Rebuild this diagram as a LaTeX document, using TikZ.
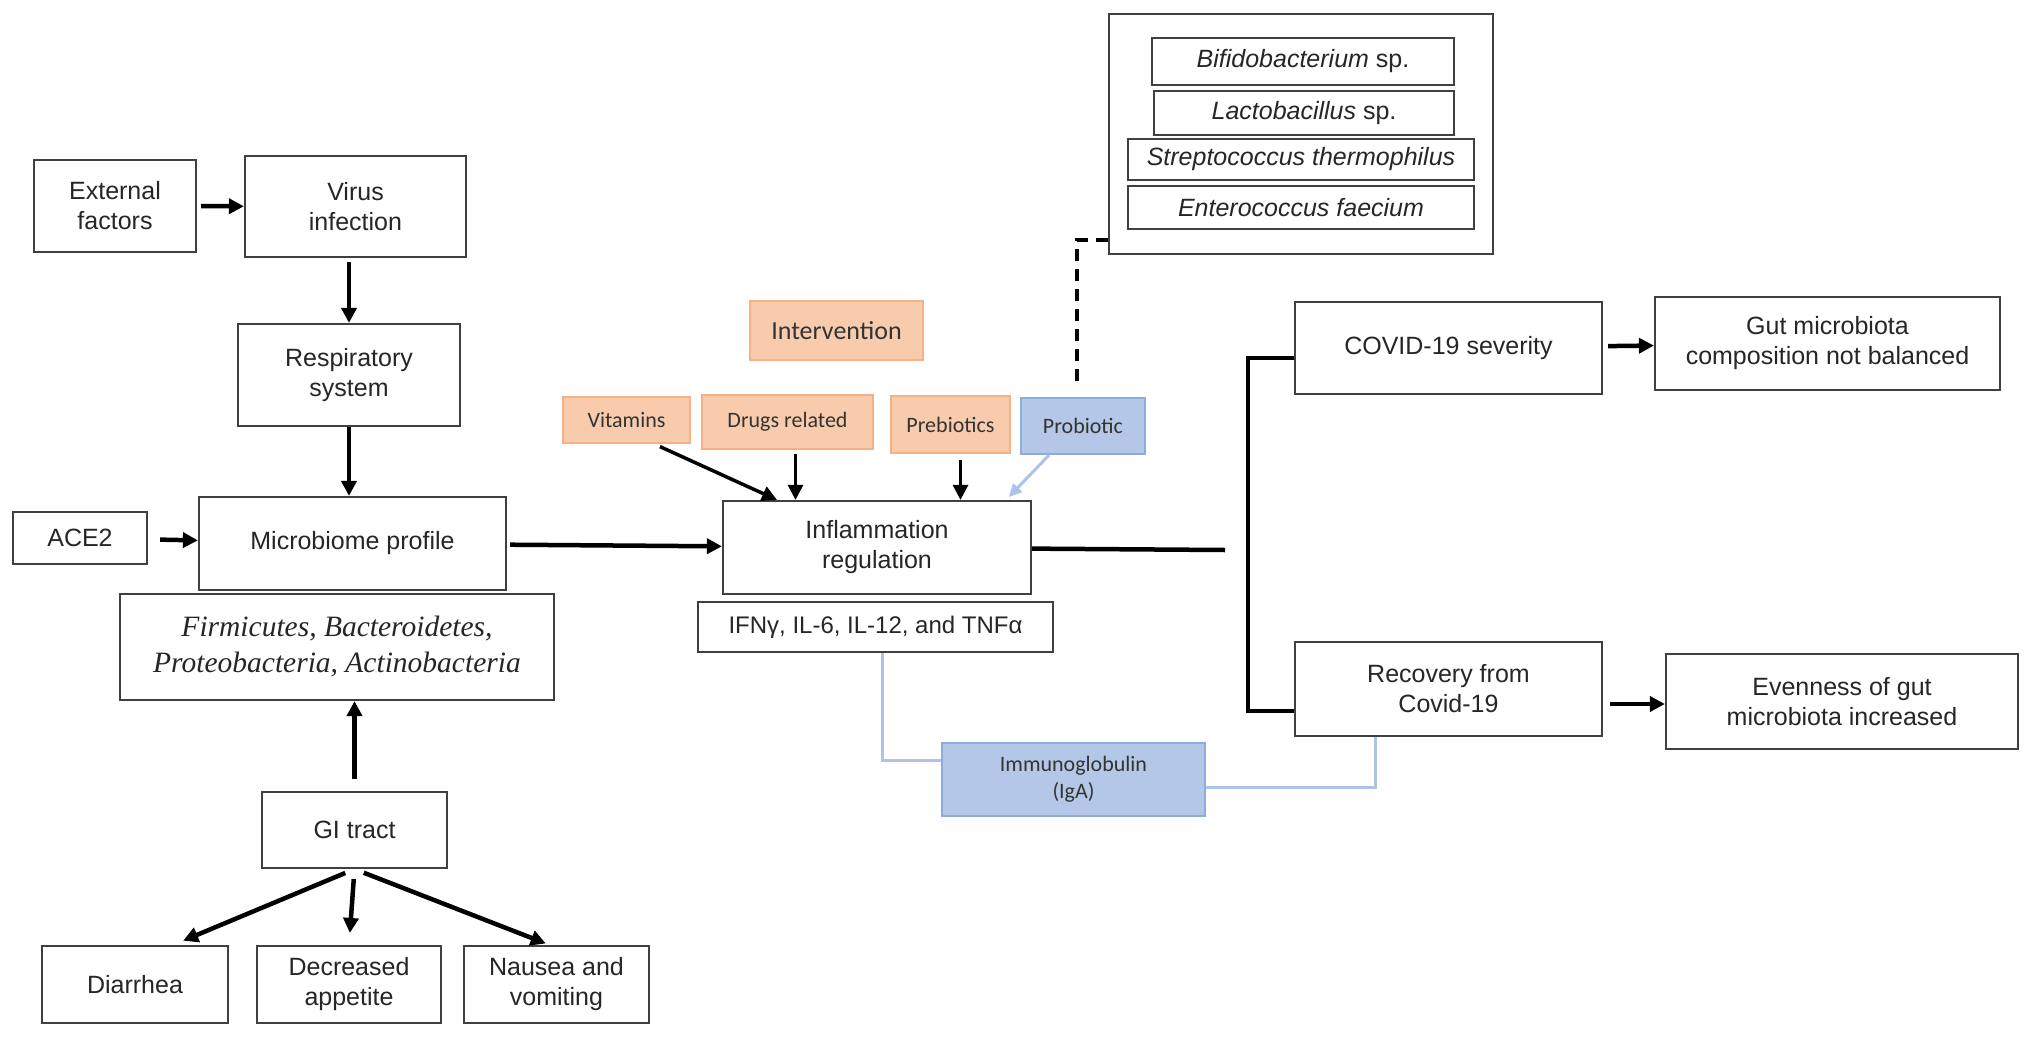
\documentclass[tikz,border=0pt]{standalone}
\usepackage{fontspec}
\setmainfont{Liberation Sans}
\newfontfamily\calfont{Carlito}
\newfontfamily\timesfont{Liberation Serif}
\usetikzlibrary{arrows.meta}
\definecolor{peach}{HTML}{F8CBAD}
\definecolor{peachline}{HTML}{F4B183}
\definecolor{skyfill}{HTML}{B4C7E7}
\definecolor{skyline}{HTML}{8FAADC}
\definecolor{skylink}{HTML}{AFC3EA}
\definecolor{boxline}{HTML}{404040}

\begin{document}
\begin{tikzpicture}[x=1pt, y=-1pt,
  box/.style={draw=boxline, line width=2.2pt, inner sep=0pt, align=center,
    text=black!85, font=\fontsize{25}{30}\selectfont},
  orangebox/.style={box, draw=peachline, fill=peach, text=black!80,
    font=\calfont\fontsize{22}{27}\selectfont},
  bluebox/.style={box, draw=skyline, fill=skyfill, text=black!80,
    font=\calfont\fontsize{22}{27}\selectfont},
  arr/.style={line width=4.5pt, -{Triangle[length=15pt,width=15pt]}},
  link/.style={line width=4.5pt},
  skyarr/.style={draw=skylink, line width=3pt, -{Triangle[length=13pt,width=12pt]}},
  skylinkline/.style={draw=skylink, line width=3pt}]

  \path[fill=white, use as bounding box] (0,0) rectangle (2032,1039);

  % left column
  \node[box, minimum width=162pt, minimum height=92pt] (ext) at (115,206) {External\\factors};
  \node[box, minimum width=221pt, minimum height=101pt] (virus) at (355.5,206.5) {Virus\\infection};
  \node[box, minimum width=222pt, minimum height=102pt] (resp) at (349,375) {Respiratory\\system};
  \node[box, minimum width=307pt, minimum height=93pt] (micro) at (352.5,543.5) {Microbiome profile};
  \node[box, minimum width=134pt, minimum height=52pt] (ace) at (80,538) {ACE2};
  \node[box, minimum width=434pt, minimum height=106pt,
    font=\timesfont\itshape\fontsize{29.5}{36}\selectfont] (phyla) at (337,647)
    {Firmicutes, Bacteroidetes,\\Proteobacteria, Actinobacteria};
  \node[box, minimum width=185pt, minimum height=76pt] (gi) at (354.5,830) {GI tract};
  \node[box, minimum width=186pt, minimum height=77pt] (diar) at (135,984.5) {Diarrhea};
  \node[box, minimum width=184pt, minimum height=77pt] (appet) at (349,984.5) {Decreased\\appetite};
  \node[box, minimum width=185pt, minimum height=77pt] (naus) at (556.5,984.5) {Nausea and\\vomiting};

  % intervention
  \node[orangebox, minimum width=173pt, minimum height=59pt,
    font=\calfont\fontsize{26}{30}\selectfont] (interv) at (836.5,330.5) {Intervention};
  \node[orangebox, minimum width=127pt, minimum height=46pt] (vit) at (626.5,420) {Vitamins};
  \node[orangebox, minimum width=171pt, minimum height=54pt] (drug) at (787.5,422) {Drugs related};
  \node[orangebox, minimum width=119pt, minimum height=57pt] (preb) at (950.5,424.5) {Prebiotics};
  \node[bluebox, minimum width=124pt, minimum height=56pt] (prob) at (1083,426) {Probiotic};
  \node[box, minimum width=308pt, minimum height=93pt] (infl) at (877,547.5) {Inflammation\\regulation};
  \node[box, minimum width=355pt, minimum height=50pt, font=\fontsize{24}{28}\selectfont] (ifn)
    at (875.5,627) {IFNγ, IL-6, IL-12, and TNFα};
  \node[bluebox, minimum width=263pt, minimum height=73pt] (iga) at (1073.5,779.5) {Immunoglobulin\\(IgA)};

  % probiotic species
  \node[box, minimum width=384pt, minimum height=240pt] (spec) at (1301,134) {};
  \node[box, minimum width=302pt, minimum height=47pt] (bifido) at (1303,61.5) {\textit{Bifidobacterium} sp.};
  \node[box, minimum width=300pt, minimum height=44pt] (lacto) at (1304,113) {\textit{Lactobacillus} sp.};
  \node[box, minimum width=346pt, minimum height=41pt] (strep) at (1301,159.5) {\textit{Streptococcus thermophilus}};
  \node[box, minimum width=346pt, minimum height=43pt] (entero) at (1301,207.5) {\textit{Enterococcus faecium}};

  % outcomes
  \node[box, minimum width=307pt, minimum height=92pt] (sev) at (1448.5,348) {COVID-19 severity};
  \node[box, minimum width=345pt, minimum height=93pt] (gut) at (1827.5,343.5) {Gut microbiota\\composition not balanced};
  \node[box, minimum width=307pt, minimum height=94pt] (recov) at (1448.5,689) {Recovery from\\Covid-19};
  \node[box, minimum width=352pt, minimum height=95pt] (even) at (1842,701.5) {Evenness of gut\\microbiota increased};

  \coordinate (split) at (1225,550);

  % connectors
  \draw[arr, shorten <=4pt] (ext) -- (virus);
  \draw[arr, shorten <=4pt] (virus.south -| resp.north) -- (resp.north);
  \draw[arr] (resp.south) -- (resp.south |- micro.north);
  \draw[arr, shorten <=12pt] (ace) -- (micro);
  \draw[arr, shorten <=12pt] (gi.north) -- (gi.north |- phyla.south);
  \draw[arr, shorten <=10pt, shorten >=11pt] (gi.south) -- ([xshift=38pt]diar.north);
  \draw[arr, shorten <=10pt, shorten >=12pt] (gi.south) -- (appet.north);
  \draw[arr, shorten <=10pt, shorten >=4pt] (gi.south) -- ([xshift=-7pt]naus.north);
  \draw[arr, shorten <=3pt] (micro) -- (infl);
  \draw[arr, line width=3.5pt, shorten <=6pt] ([xshift=28pt]vit.south) -- ([xshift=-100pt]infl.north);
  \draw[arr, line width=3pt, shorten <=4pt] ([xshift=8pt]drug.south) -- ([xshift=8pt]drug.south |- infl.north);
  \draw[arr, line width=3pt, shorten <=6pt] ([xshift=10pt]preb.south) -- ([xshift=10pt]preb.south |- infl.north);
  \draw[skyarr, shorten >=4pt] ([xshift=-34pt]prob.south) -- ([xshift=129pt]infl.north);
  \draw[link, dash pattern=on 12pt off 8pt, shorten <=16pt] ([xshift=-6pt]prob.north) |- ([yshift=-106pt]spec.west);
  \draw[link] (infl) -- (split);
  \draw[link] ([yshift=-10pt]sev.west) -- ++(-46,0) |- ([yshift=-22pt]recov.west);
  \draw[arr, shorten <=5pt] (sev) -- (gut);
  \draw[arr, shorten <=7pt] ([yshift=-15pt]recov.east) -- ([yshift=-15pt]recov.east -| even.west);
  \draw[skylinkline] ([xshift=6.5pt]ifn.south) |- ([yshift=19pt]iga.west);
  \draw[skylinkline] ([yshift=-8pt]iga.east) -| ([xshift=-73pt]recov.south);
\end{tikzpicture}
\end{document}
